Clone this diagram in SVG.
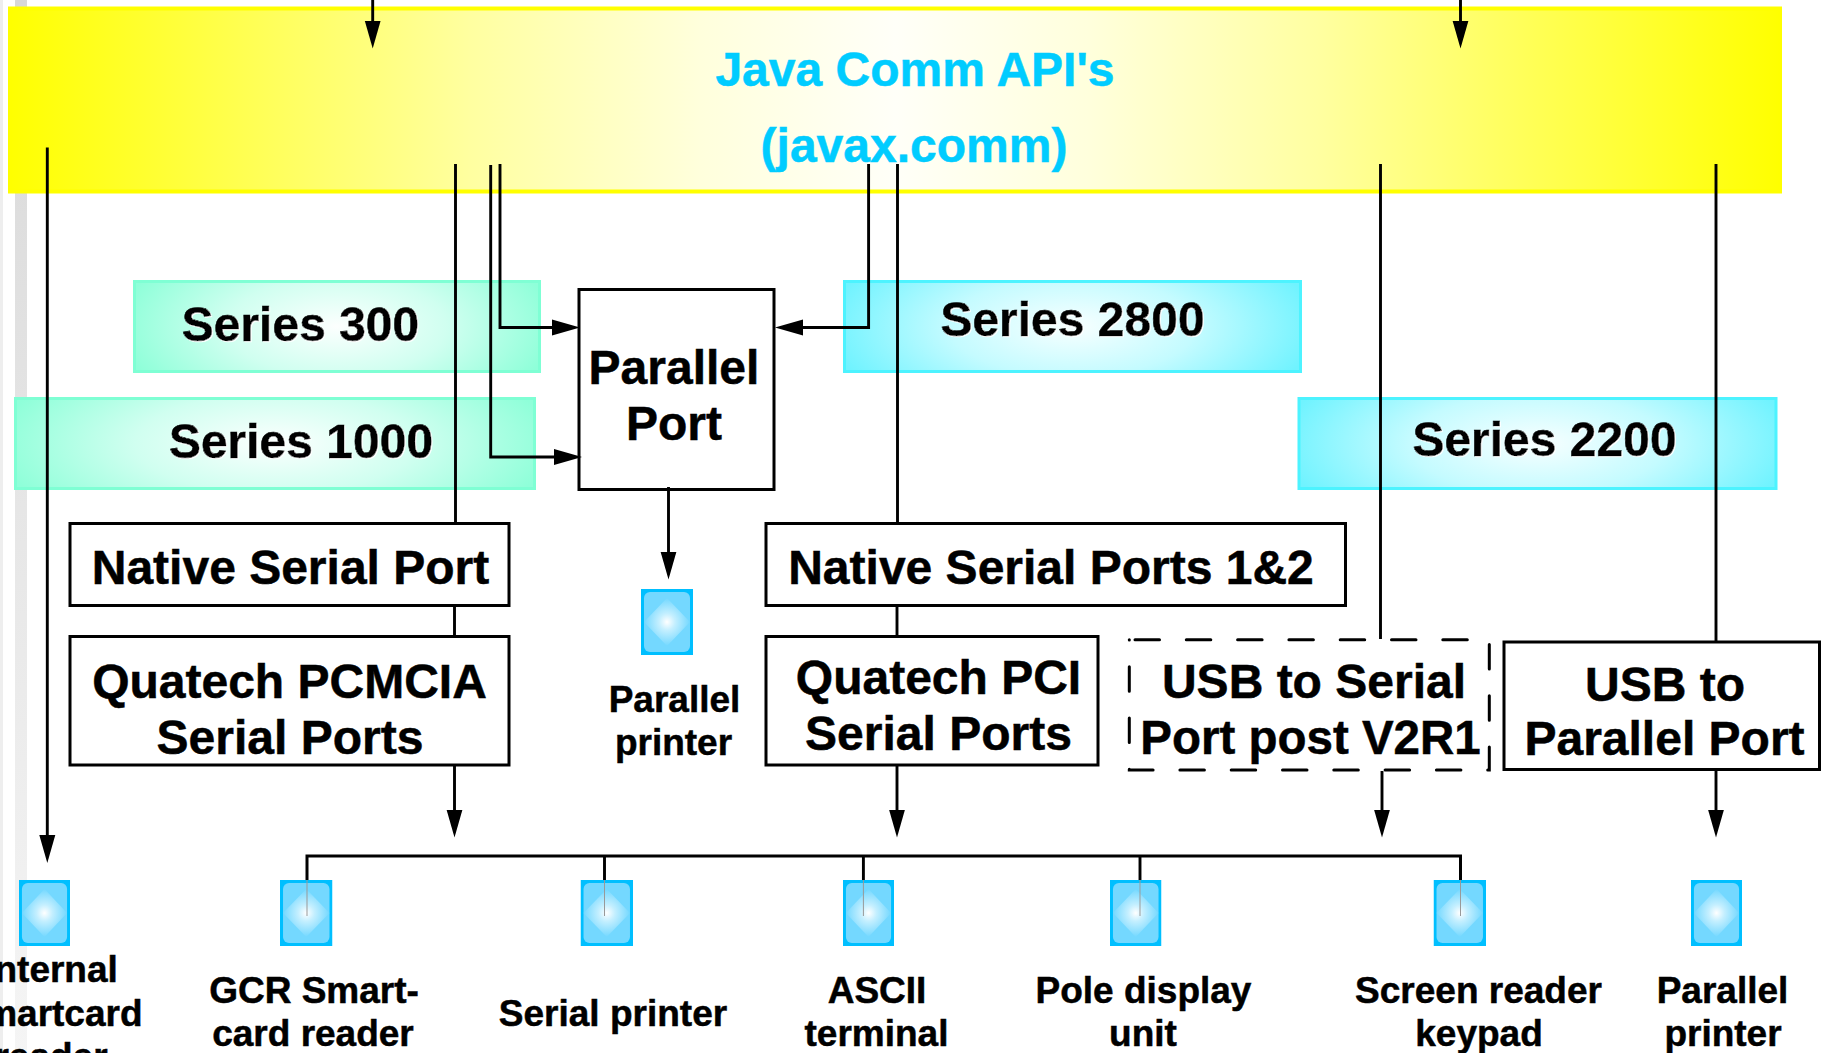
<svg xmlns="http://www.w3.org/2000/svg" width="1833" height="1053" viewBox="0 0 1833 1053">
<style>
text{font-family:"Liberation Sans",Arial,sans-serif;font-weight:700;text-anchor:middle;fill:#000;stroke:#000;stroke-width:.5}
.big{font-size:48px}
.sm{font-size:37px}
.api{font-size:48px;fill:#00ccff;stroke:#00ccff}
.halo{filter:url(#halo)}
.box{fill:#fff;stroke:#000;stroke-width:3}
.dash{fill:none;stroke:#000;stroke-width:3;stroke-dasharray:24.5 26.8;stroke-linecap:round}
.aq{fill:url(#gAq);stroke:#7fffd4;stroke-width:3}
.cy{fill:url(#gCy);stroke:#4df3ff;stroke-width:3}
.yl{fill:url(#gYl);stroke:#ffff00;stroke-width:4}
.c{fill:none;stroke:#000;stroke-width:2.900}
.a{marker-end:url(#ah)}
.t{fill:none;stroke:#999;stroke-width:1}
</style>
<defs>
<filter id="halo" x="-5%" y="-10%" width="110%" height="120%"><feDropShadow dx="1" dy="1" stdDeviation="0.4" flood-color="#fff"/></filter>
<linearGradient id="gYl" x1="0" x2="1" y1="0" y2="0"><stop offset="0" stop-color="#ffff00"/><stop offset=".13" stop-color="#ffff50"/><stop offset=".26" stop-color="#ffffa0"/><stop offset=".39" stop-color="#ffffdc"/><stop offset=".5" stop-color="#fffff8"/><stop offset=".61" stop-color="#ffffdc"/><stop offset=".74" stop-color="#ffffa0"/><stop offset=".87" stop-color="#ffff50"/><stop offset="1" stop-color="#ffff00"/></linearGradient>
<radialGradient id="gAq" cx=".5" cy=".5" r=".5" gradientTransform="translate(.5 .5) scale(1.08 2.2) translate(-.5 -.5)"><stop offset="0" stop-color="#fcfffe"/><stop offset=".5" stop-color="#d0fff0"/><stop offset="1" stop-color="#8fffd9"/></radialGradient>
<radialGradient id="gCy" cx=".5" cy=".5" r=".5" gradientTransform="translate(.5 .5) scale(1.08 2.2) translate(-.5 -.5)"><stop offset="0" stop-color="#f8ffff"/><stop offset=".5" stop-color="#c4fbff"/><stop offset="1" stop-color="#70f3ff"/></radialGradient>
<radialGradient id="gIc"><stop offset="0" stop-color="#ffffff"/><stop offset=".35" stop-color="#c4efff"/><stop offset="1" stop-color="#74d8ff"/></radialGradient>
<linearGradient id="gStrip" x1="0" x2="0" y1="0" y2="1"><stop offset="0" stop-color="#d8d8d8"/><stop offset="1" stop-color="#f5f5f5"/></linearGradient>
<marker id="ah" markerUnits="userSpaceOnUse" viewBox="0 0 28 17" markerWidth="28" markerHeight="17" refX="1" refY="8.500" orient="auto"><path d="M0 0.500L28 8.500L0 16.500z" fill="#000"/></marker>
<symbol id="icon" viewBox="0 0 52 66" preserveAspectRatio="none">
<rect width="52" height="66" fill="#00bfff"/>
<rect x="3" y="3" width="46" height="60" rx="6" fill="#74d8ff"/>
<polygon points="26,9 49,33 26,57 3,33" fill="url(#gIc)"/>
</symbol>
</defs>
<rect x="0" y="0" width="3" height="1053" fill="#eeeeee"/>
<rect x="15" y="0" width="12" height="1053" fill="url(#gStrip)"/>

<g id="java-comm-api"><rect class="yl" x="10" y="8.500" width="1770" height="183"/><text class="api" x="915" y="86">Java Comm API's</text><text class="api" x="914" y="162">(javax.comm)</text></g>
<g id="series-300"><rect class="aq" x="134.500" y="281.500" width="405" height="90"/><text class="big halo" x="300.500" y="341">Series 300</text></g>
<g id="series-1000"><rect class="aq" x="15.500" y="398.500" width="519" height="90"/><text class="big halo" x="301" y="458">Series 1000</text></g>
<g id="series-2800"><rect class="cy" x="844.500" y="281.500" width="456" height="90"/><text class="big halo" x="1072.500" y="336">Series 2800</text></g>
<g id="series-2200"><rect class="cy" x="1299" y="398.500" width="477" height="90"/><text class="big halo" x="1544.500" y="456">Series 2200</text></g>

<g id="parallel-port"><rect class="box" x="579" y="289.500" width="195" height="200"/><text class="big" x="674" y="384">Parallel</text><text class="big" x="674" y="440">Port</text></g>
<g id="native-serial-port"><rect class="box" x="70" y="523.500" width="439" height="82"/><text class="big" x="290.500" y="584">Native Serial Port</text></g>
<g id="quatech-pcmcia"><rect class="box" x="70" y="636.500" width="439" height="128.500"/><text class="big" x="289.500" y="697.500">Quatech PCMCIA</text><text class="big" x="290" y="753.500">Serial Ports</text></g>
<g id="native-serial-ports-12"><rect class="box" x="766" y="523.500" width="579.500" height="82"/><text class="big" x="1051" y="584">Native Serial Ports 1&amp;2</text></g>
<g id="quatech-pci"><rect class="box" x="766" y="636.500" width="332" height="128.500"/><text class="big" x="938.500" y="693.500">Quatech PCI</text><text class="big" x="938.500" y="749.500">Serial Ports</text></g>
<g id="usb-serial"><path class="dash" d="M1135 639.700H1489.300V770H1129.300V639.700"/><text class="big" x="1314" y="697.500">USB to Serial</text><text class="big" x="1310.500" y="753.500" style="font-size:47.500px">Port post V2R1</text></g>
<g id="usb-parallel"><rect class="box" x="1504" y="642" width="315.500" height="127.500"/><text class="big" x="1665" y="701">USB to</text><text class="big" x="1664.500" y="754.500">Parallel Port</text></g>

<g id="dev-parallel-printer-1"><use href="#icon" x="641" y="589" width="52" height="66"/><text class="sm" x="674.500" y="711.500">Parallel</text><text class="sm" x="673.500" y="754.500">printer</text></g>
<g id="dev-internal-smartcard"><use href="#icon" x="19" y="880" width="51" height="66"/><text class="sm" x="51" y="982">Internal</text><text class="sm" x="51" y="1026">Smartcard</text><text class="sm" x="51" y="1069">reader</text></g>
<g id="dev-gcr"><use href="#icon" x="280" y="880" width="52.500" height="66"/><text class="sm" x="314" y="1003">GCR Smart-</text><text class="sm" x="313" y="1046">card reader</text></g>
<g id="dev-serial-printer"><use href="#icon" x="580.500" y="880" width="52.500" height="66"/><text class="sm" x="613" y="1026">Serial printer</text></g>
<g id="dev-ascii"><use href="#icon" x="843" y="880" width="51" height="66"/><text class="sm" x="877" y="1003">ASCII</text><text class="sm" x="876.500" y="1046">terminal</text></g>
<g id="dev-pole"><use href="#icon" x="1110" y="880" width="51.500" height="66"/><text class="sm" x="1143.500" y="1003">Pole display</text><text class="sm" x="1143" y="1046">unit</text></g>
<g id="dev-screen-reader"><use href="#icon" x="1433.500" y="880" width="52.500" height="66"/><text class="sm" x="1478.500" y="1003">Screen reader</text><text class="sm" x="1479" y="1046">keypad</text></g>
<g id="dev-parallel-printer-2"><use href="#icon" x="1691" y="880" width="51" height="66"/><text class="sm" x="1722.500" y="1003">Parallel</text><text class="sm" x="1723" y="1046">printer</text></g>

<g id="connectors">
<path class="c a" d="M372.700 0V21.500"/>
<path class="c a" d="M1460.500 0V21.500"/>
<path class="c a" d="M47.300 147.500V836"/>
<path class="c" d="M455.500 164V522"/>
<path class="c" d="M454.500 606V636"/>
<path class="c a" d="M454.500 765V810.500"/>
<path class="c a" d="M490.700 165V457H555"/>
<path class="c a" d="M500 164V327.500H553"/>
<path class="c a" d="M868.600 164V327.500H802"/>
<path class="c" d="M897.500 164V522"/>
<path class="c" d="M897 606V636"/>
<path class="c a" d="M897 765V810.500"/>
<path class="c a" d="M668.500 487V552.500"/>
<path class="c" d="M1380.500 164V639"/>
<path class="c a" d="M1382 771V810.500"/>
<path class="c" d="M1716 164V641"/>
<path class="c a" d="M1716 770V810.500"/>
<path class="c" style="stroke-width:3" d="M307 880V856H1460.500V880"/>
<path class="c" d="M604.500 856V880M863.400 856V880M1140 856V880"/>
<path class="t" d="M307 880V916M604.500 880V916M863.400 880V916M1140 880V916M1460.500 880V916"/>
</g>
</svg>
